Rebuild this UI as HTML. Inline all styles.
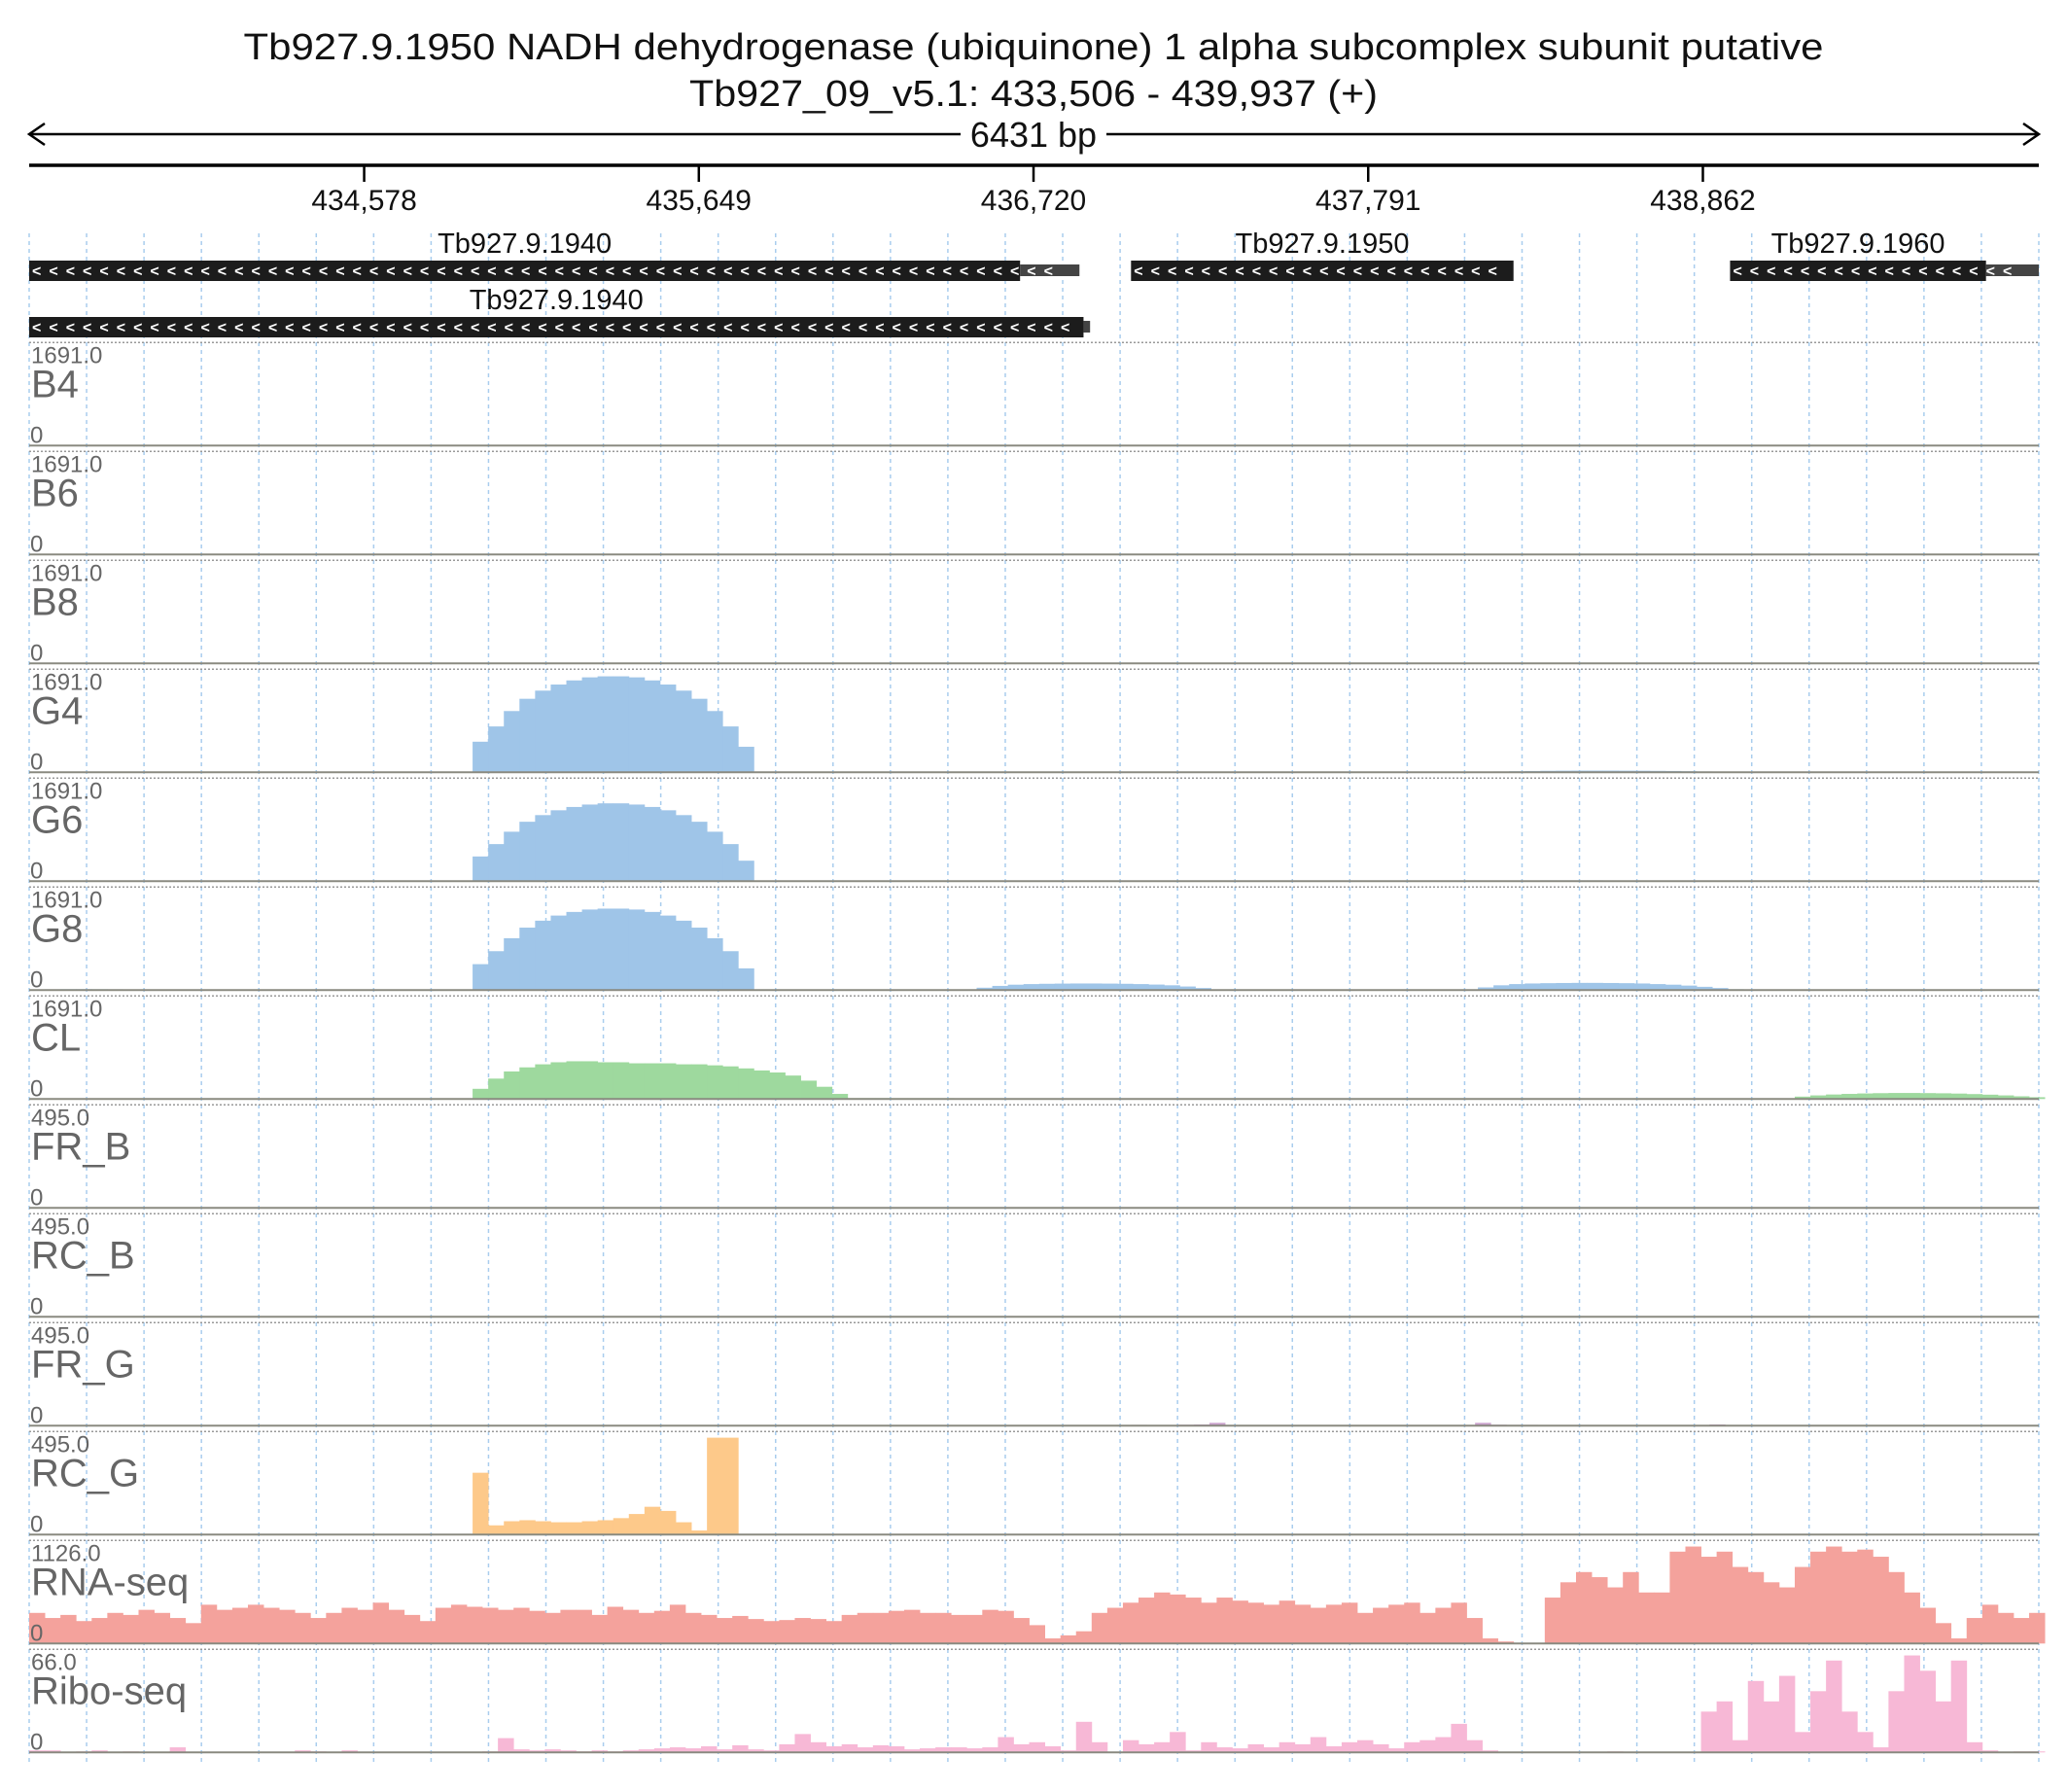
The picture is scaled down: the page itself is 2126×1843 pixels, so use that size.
<!DOCTYPE html>
<html><head><meta charset="utf-8">
<style>
html,body{margin:0;padding:0;background:#fff;}
svg{display:block;font-family:"Liberation Sans",sans-serif;}
</style></head>
<body>
<svg id="chart" width="2126" height="1843" viewBox="0 0 2126 1843" xmlns="http://www.w3.org/2000/svg">
  <text x="1063" y="61" font-size="38" text-anchor="middle" textLength="1625" lengthAdjust="spacingAndGlyphs" fill="#111">Tb927.9.1950  NADH dehydrogenase (ubiquinone) 1 alpha subcomplex subunit  putative</text>
  <text x="1063" y="109" font-size="38" text-anchor="middle" textLength="708" lengthAdjust="spacingAndGlyphs" fill="#111">Tb927_09_v5.1: 433,506 - 439,937 (+)</text>
  <g id="grid"></g>
  <g id="scale"></g>
  <g id="genes"></g>
  <g id="tracks"></g>
</svg>
<script>
const NS="http://www.w3.org/2000/svg";
const regionStart=433506, regionEnd=439937;
const binSize=50;
const tickLabels=["434,578","435,649","436,720","437,791","438,862"];
const tickPositions=[434578,435649,436720,437791,438862];
const geneNames=["Tb927.9.1940","Tb927.9.1950","Tb927.9.1960","Tb927.9.1940"];
const geneStarts=[433506,437032,438949,433506];
const geneCdsEnds=[436677,438256,439768,436880];
const geneEnds=[436867,438256,439937,436901];
const geneRows=[0,0,0,1];
const trackNames=["B4","B6","B8","G4","G6","G8","CL","FR_B","RC_B","FR_G","RC_G","RNA-seq","Ribo-seq"];
const trackMax=[1691,1691,1691,1691,1691,1691,1691,495,495,495,495,1126,66];
const trackMaxLabels=["1691.0","1691.0","1691.0","1691.0","1691.0","1691.0","1691.0","495.0","495.0","495.0","495.0","1126.0","66.0"];
const b4Start=436115; const b4Values=[6,8,9,10,10,10,10,10,10,10,9,8,8,7,6,5];
const g4Start=434925; const g4Values=[507,760,1015,1218,1353,1454,1522,1573,1590,1590,1573,1522,1454,1353,1218,1015,760,423];
const g4bStart=438142; const g4bValues=[8,14,18,22,25,27,28,28,28,27,26,24,22,18,14,8];
const g6Start=434925; const g6Values=[410,615,820,985,1095,1175,1230,1270,1290,1290,1270,1230,1175,1095,985,820,615,340];
const g6bStart=438142; const g6bValues=[5,8,10,12,14,14,14,14,13,12,10,8,6,4];
const g8Start=434925; const g8Values=[430,645,860,1035,1150,1235,1295,1335,1350,1350,1335,1295,1235,1150,1035,860,645,360];
const g8aStart=433506; const g8aValues=[10,14,16,16,15,14,12,10];
const g8bStart=436538; const g8bValues=[40,70,90,100,105,108,110,110,108,105,100,92,80,60,35];
const g8cStart=438142; const g8cValues=[45,80,100,110,115,118,120,120,118,115,110,100,90,75,55,35,15];
const clStart=434925; const clFrac=[0.1,0.2,0.27,0.31,0.34,0.36,0.37,0.37,0.36,0.36,0.35,0.35,0.35,0.34,0.34,0.33,0.32,0.3,0.28,0.26,0.23,0.18,0.12,0.05];
const clbStart=439156; const clbValues=[40,60,75,85,92,97,100,100,98,95,90,82,72,60,45,30];
const clcStart=436115; const clcValues=[15,15,15,14,14,14,14,13,12,12,12,12,12,12,12,12,12,12,12,12,12,12,12,12,12,12,12,12,12,12,12,12,12,12,12,12,12,12,12,12,12,12,12,12,12,12,12,12,12,12,12,12,12,12,12,12,12,12,12,12];
const frgStart=436983; const frgValues=[3,4,3,2,5,6,14,2,2,2,2,2,2,2,3,3,2,2,2,2,2,2,2,14,5,4,4,3,3,3,3,2,2,2,2,3,3,3,6];
const rcgStart=434925; const rcgValues=[300,45,65,70,65,60,60,65,70,80,100,135,115,60,20,470,470];
const rnaFrac=[0.3,0.25,0.28,0.22,0.25,0.3,0.28,0.33,0.3,0.25,
0.2,0.38,0.33,0.35,0.38,0.35,0.33,0.3,0.25,0.3,
0.35,0.33,0.4,0.33,0.28,0.22,0.35,0.38,0.36,0.35,
0.33,0.35,0.32,0.3,0.33,0.33,0.28,0.36,0.33,0.3,
0.32,0.38,0.3,0.28,0.25,0.27,0.24,0.22,0.23,0.25,
0.24,0.22,0.28,0.3,0.3,0.32,0.33,0.3,0.3,0.28,
0.28,0.33,0.32,0.25,0.18,0.05,0.08,0.12,0.3,0.35,
0.4,0.45,0.5,0.48,0.45,0.4,0.45,0.42,0.4,0.38,
0.42,0.38,0.35,0.38,0.4,0.3,0.35,0.38,0.4,0.3,
0.35,0.4,0.25,0.05,0.02,0.0,0.0,0.45,0.6,0.7,
0.65,0.55,0.7,0.5,0.5,0.9,0.95,0.85,0.9,0.75,
0.7,0.6,0.55,0.75,0.9,0.95,0.9,0.92,0.85,0.7,
0.5,0.35,0.2,0.05,0.25,0.38,0.3,0.25,0.3];
const riboFrac=[0.02,0.02,0,0.01,0.02,0,0.01,0,0,0.05,
0,0,0,0,0,0,0,0.02,0.01,0,
0.02,0,0,0,0,0,0,0,0,0.01,
0.14,0.03,0.02,0.03,0.02,0.01,0.02,0.01,0.02,0.03,
0.04,0.05,0.04,0.06,0.03,0.07,0.03,0.02,0.08,0.18,
0.1,0.06,0.08,0.05,0.07,0.06,0.03,0.04,0.05,0.05,
0.04,0.05,0.15,0.08,0.1,0.06,0.02,0.3,0.1,0,
0.12,0.08,0.1,0.2,0.02,0.1,0.05,0.04,0.08,0.05,
0.1,0.08,0.15,0.06,0.1,0.12,0.08,0.04,0.1,0.12,
0.15,0.28,0.12,0.02,0,0,0,0,0,0,
0,0.01,0,0,0,0,0,0.4,0.5,0.12,
0.7,0.5,0.75,0.2,0.6,0.9,0.4,0.2,0.05,0.6,
0.95,0.8,0.5,0.9,0.1,0.02,0,0.01,0.01];

const X0=30, X1=2097;
function xs(bp){return X0+(bp-regionStart)/(regionEnd-regionStart)*(X1-X0);}
const TOP0=352.3, TH=112, PH=105;
function trackTop(i){return TOP0+i*TH;}
function ys(i,v){const base=trackTop(i)+106;return base-v/trackMax[i]*PH;}
function el(tag,attrs,parent){const e=document.createElementNS(NS,tag);for(const k in attrs)e.setAttribute(k,attrs[k]);parent.appendChild(e);return e;}

const grid=document.getElementById('grid');
for(let k=0;k<=35;k++){
  const x=X0+k*(X1-X0)/35;
  const l=el('line',{x1:x,y1:240,x2:x,y2:1815,stroke:'#a9cdee','stroke-width':1.5,'stroke-dasharray':'4,4'},grid);
  
  
}
const sc=document.getElementById('scale');
const ar=el('line',{x1:X0,y1:138,x2:X1,y2:138,stroke:'#000','stroke-width':2.5},sc);


el('polyline',{points:(X0+16)+',127 '+X0+',138 '+(X0+16)+',149',fill:'none',stroke:'#000','stroke-width':2.5},sc);
el('polyline',{points:(X1-16)+',127 '+X1+',138 '+(X1-16)+',149',fill:'none',stroke:'#000','stroke-width':2.5},sc);
el('rect',{x:988,y:120,width:150,height:36,fill:'#fff'},sc);
const sp=el('text',{x:1063,y:151,'font-size':36,'text-anchor':'middle',fill:'#111'},sc);
sp.textContent="6431 bp";


const ax=el('line',{x1:X0,y1:170,x2:X1,y2:170,stroke:'#000','stroke-width':3.5},sc);


tickPositions.forEach((p,i)=>{
  const x=xs(p);
  const t=el('line',{x1:x,y1:170,x2:x,y2:187,stroke:'#000','stroke-width':2.5},sc);
  
  
  const lb=el('text',{x:x,y:216,'font-size':30,'text-anchor':'middle',fill:'#111'},sc);
  lb.textContent=tickLabels[i];
  
  
});
const gg=document.getElementById('genes');
geneNames.forEach((n,i)=>{
  const cy=geneRows[i]?336:278;
  const x0=xs(geneStarts[i]), x1=xs(geneCdsEnds[i]), x2=xs(geneEnds[i]);
  if(x2>x1){el('rect',{x:x1,y:cy-6,width:x2-x1,height:12,fill:'#444'},gg);}
  const r=el('rect',{x:x0,y:cy-10,width:x1-x0,height:21,fill:'#1c1c1c'},gg);
  
  
  let s='';const cnt=Math.floor((x2-x0-6)/17.5);for(let k=0;k<cnt;k++)s+='<';
  el('text',{x:x0+3,y:cy+6,'font-size':16,'font-weight':'bold',fill:'#fff','letter-spacing':'8'},gg).textContent=s;
  const lb=el('text',{x:(x0+x1)/2,y:cy-18,'font-size':29,'text-anchor':'middle',fill:'#111'},gg);
  lb.textContent=n;
  
  
});
const tg=document.getElementById('tracks');
const colors=['#e4d47a','#9fc5e8','#9fc5e8','#9fc5e8','#9fc5e8','#9fc5e8','#9ed99e','#d7b0d8','#e09a9a','#c9a0cc','#fdc98a','#f4a29c','#f7b8d6'];
function drawSeg(i,start,vals,g){
  vals.forEach((v,k)=>{
    if(v<=0)return;
    const xa=xs(start+k*binSize), xb=xs(start+(k+1)*binSize);
    const y=ys(i,v), base=ys(i,0);
    const b=el('rect',{x:xa,y:y,width:xb-xa+0.4,height:base-y,fill:colors[i]},g);
    
    
  });
}
trackNames.forEach((n,i)=>{
  const g=el('g',{},tg);
  
  
  const top=trackTop(i);
  el('line',{x1:X0,y1:top,x2:X1,y2:top,stroke:'#999','stroke-width':1.5,'stroke-dasharray':'2,2'},g);
  const segs=[];
  if(i===0)segs.push([b4Start,b4Values]);
  if(i===3){segs.push([g4Start,g4Values]);segs.push([g4bStart,g4bValues]);}
  if(i===4){segs.push([g6Start,g6Values]);segs.push([g6bStart,g6bValues]);}
  if(i===5){segs.push([g8Start,g8Values]);segs.push([g8aStart,g8aValues]);segs.push([g8bStart,g8bValues]);segs.push([g8cStart,g8cValues]);}
  if(i===6){segs.push([clStart,clFrac.map(f=>f*1691)]);segs.push([clbStart,clbValues]);segs.push([clcStart,clcValues]);}
  if(i===9)segs.push([frgStart,frgValues]);
  if(i===10)segs.push([rcgStart,rcgValues]);
  if(i===11)segs.push([regionStart,rnaFrac.map(f=>f*1126)]);
  if(i===12)segs.push([regionStart,riboFrac.map(f=>f*66)]);
  segs.forEach(s=>drawSeg(i,s[0],s[1],g));
  const base=ys(i,0);
  el('line',{x1:X0,y1:base,x2:X1,y2:base,stroke:'#8a8a80','stroke-width':2},g);
  const mx=el('text',{x:32,y:top+21,'font-size':24,fill:'#666'},g);
  mx.textContent=trackMaxLabels[i];
  
  
  const nm=el('text',{x:32,y:top+56,'font-size':40,fill:'#666'},g);
  nm.textContent=n;
  
  
  const z=el('text',{x:31,y:top+103,'font-size':24,fill:'#666'},g);
  z.textContent="0";
  
  
});
</script>
</body></html>
